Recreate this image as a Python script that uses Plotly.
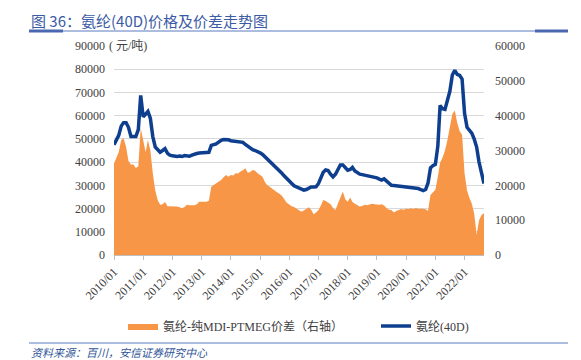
import pandas as pd
import plotly.graph_objects as go

# monthly dates 2010/01 .. 2022/09
months = pd.date_range("2010-01-01", "2022-09-01", freq="MS")

# 氨纶(40D) price, 元/吨 (left axis)
spandex_40d = [
    47500, 50000, 51500, 55500, 57000, 57000, 55000, 51000, 51000, 51000, 54000, 68700,
    59500, 60500, 61800, 58800, 51000, 46500, 45500, 44300, 45000, 45800, 43800, 43000,
    42700, 42500, 42400, 42600, 42400, 42800, 42700, 42500, 43000, 43500, 43700, 43900,
    43900, 44000, 44000, 44200, 47200, 47400, 47800, 48600, 49400, 49700, 49700, 49600,
    49200, 49000, 48900, 48900, 48700, 48500, 47600, 46800, 45800, 45400, 45000, 44600,
    44000, 43300, 42400, 41200, 40100, 39000, 38000, 37000, 36200, 35200, 34000, 32800,
    31800, 30800, 29800, 29300, 29100, 28400, 27900, 28200, 28900, 29300, 29300, 29400,
    30800, 33000, 35600, 36600, 36400, 34800, 33600, 34800, 37000, 38800, 38800, 37600,
    36500, 36800, 37700, 36200, 35300, 34800, 34600, 34400, 34200, 33900, 33600, 33400,
    33200, 32700, 32300, 32800, 32000, 30700, 30000, 29900, 29800, 29700, 29600, 29500,
    29400, 29300, 29200, 29100, 28900, 28600, 28200, 27700, 28200, 31000, 37500, 38500,
    39000, 47000, 64400, 63000, 62700, 66500, 70500, 77500, 79500, 77800, 77300, 75800,
    61000, 55000, 53800, 52500, 50000, 46500, 40000, 35000, 30800,
]

# 氨纶-纯MDI-PTMEG价差, 元/吨 (right axis)
spread = [
    26300, 28200, 29500, 33000, 33500, 31000, 27000, 26000, 26000, 25000, 25500, 36400,
    33000, 29500, 33000, 30000, 23500, 18500, 15800, 14400, 14600, 15200, 14000, 14000,
    14000, 14000, 13900, 13700, 13400, 13800, 14400, 14300, 14200, 14300, 14600, 15300,
    15300, 15300, 15300, 15600, 19600, 20100, 20600, 21000, 21500, 22300, 23000, 22500,
    23000, 22800, 23500, 23400, 24000, 24300, 24900, 23600, 23800, 24400, 24200, 23500,
    23000, 22500, 21000, 20000, 19600, 19000, 18500, 18000, 17600, 17000, 16000, 15000,
    14500, 14000, 13800, 13400, 12800, 12400, 12800, 13300, 13700, 13000, 11700, 12200,
    12900, 14300, 15800, 15500, 15000, 14600, 13500, 12900, 14800, 16500, 18200, 16000,
    15300, 16500, 15200, 14700, 14300, 13900, 14100, 14400, 14300, 14500, 14700, 14600,
    14500, 14400, 14600, 14200, 13500, 13000, 12900, 12200, 12600, 12800, 13200, 13000,
    13300, 13200, 13400, 13200, 13500, 13300, 13400, 13300, 13100, 12600, 17200, 18000,
    18700, 22500, 26500, 28000, 30000, 33000, 37000, 40500, 41500, 38000, 35500, 34500,
    23500, 18500, 16500, 14800, 12000, 5800, 10000, 11500, 12000,
]

left_ticks = list(range(0, 90001, 10000))
right_ticks = list(range(0, 60001, 10000))

ORANGE = "#F79646"
BLUE = "#0E3F8F"
SERIF = "Liberation Serif, Noto Sans CJK SC, serif"

fig = go.Figure()
fig.add_trace(go.Scatter(
    x=months, y=spread, name="氨纶-纯MDI-PTMEG价差（右轴）",
    mode="lines", line=dict(width=0, color=ORANGE),
    fill="tozeroy", fillcolor=ORANGE, yaxis="y2", legend="legend",
))
fig.add_trace(go.Scatter(
    x=months, y=spandex_40d, name="氨纶(40D)",
    mode="lines", line=dict(width=3.5, color=BLUE), legend="legend2",
))

W, H = 581, 360
L, R, T, B = 114, 97, 46, 105
pw, ph = W - L - R, H - T - B


def px(xp):
    return (xp - L) / pw


def py(yp):
    return (H - B - yp) / ph


leg_common = dict(
    orientation="h", xanchor="left", yanchor="middle", y=py(326),
    font=dict(family=SERIF, size=12, color="#404040"),
    itemwidth=30, bgcolor="rgba(0,0,0,0)",
)

fig.update_layout(
    width=W, height=H,
    margin=dict(l=L, r=R, t=T, b=B),
    paper_bgcolor="white", plot_bgcolor="white",
    font=dict(family=SERIF, size=12, color="#404040"),
    showlegend=True,
    legend=dict(x=px(123), **leg_common),
    legend2=dict(x=px(376), **leg_common),
    xaxis=dict(
        type="date", range=[months[0], months[-1]],
        tick0="2010-01-01", dtick="M12", tickformat="%Y/%m",
        tickangle=-45, ticks="outside", ticklen=4, tickcolor="#BFBFBF",
        showline=True, linecolor="#BFBFBF", linewidth=1,
        showgrid=False, zeroline=False,
        tickfont=dict(family=SERIF, size=12, color="#404040"),
    ),
    yaxis=dict(
        range=[0, 90000], tickvals=left_ticks, tickformat="d",
        showgrid=True, gridcolor="#D9D9D9", gridwidth=1,
        zeroline=False, showline=False, ticks="",
        ticklabelstandoff=8,
        tickfont=dict(family=SERIF, size=12, color="#404040"),
    ),
    yaxis2=dict(
        range=[0, 60000], tickvals=right_ticks, tickformat="d",
        overlaying="y", side="right", showgrid=False,
        zeroline=False, showline=False, ticks="",
        ticklabelstandoff=10,
        tickfont=dict(family=SERIF, size=12, color="#404040"),
    ),
)

# unit label next to top tick
fig.add_annotation(
    xref="paper", yref="paper", x=px(107), y=py(46), xanchor="left", yanchor="middle",
    text="( 元/吨)", showarrow=False, bgcolor="white",
    font=dict(family=SERIF, size=12, color="#404040"),
)

# title
fig.add_annotation(
    xref="paper", yref="paper", x=px(29), y=py(20), xanchor="left", yanchor="middle",
    text="图 36：氨纶(40D)价格及价差走势图", showarrow=False,
    font=dict(family="Noto Sans CJK SC, sans-serif", size=15, color="#3B5BA5"),
)

# source
fig.add_annotation(
    xref="paper", yref="paper", x=px(29), y=py(352), xanchor="left", yanchor="middle",
    text="<i>资料来源：百川，安信证券研究中心</i>", showarrow=False,
    font=dict(family="Noto Sans CJK SC, sans-serif", size=11, color="#2F5597"),
)

# decorative rules
line_col = "#5B7BC0"
for yp in (31, 343):
    fig.add_shape(type="line", xref="paper", yref="paper", x0=px(29), x1=px(568),
                  y0=py(yp), y1=py(yp), line=dict(color=line_col, width=1))
for x0, x1 in ((29, 63), (535, 568)):
    fig.add_shape(type="line", xref="paper", yref="paper", x0=px(x0), x1=px(x1),
                  y0=py(31), y1=py(31), line=dict(color="#4A68B0", width=3))

fig.write_html(
    "out.html",
    config={"displayModeBar": False},
    post_script="document.body.style.margin='0';document.body.style.overflow='hidden';",
)
